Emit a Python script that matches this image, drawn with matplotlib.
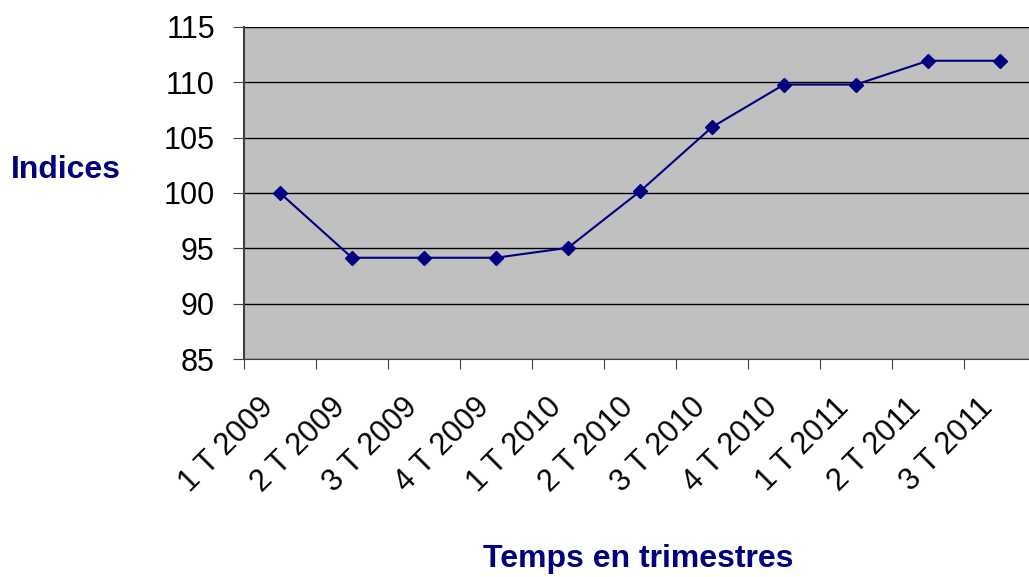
import matplotlib.pyplot as plt
import matplotlib.transforms as mtransforms

plt.rcParams['font.family'] = ['Liberation Sans', 'DejaVu Sans']

# données
trimestres = ['1 T 2009', '2 T 2009', '3 T 2009', '4 T 2009', '1 T 2010', '2 T 2010',
              '3 T 2010', '4 T 2010', '1 T 2011', '2 T 2011', '3 T 2011']
indices = [100, 94.15, 94.15, 94.15, 95.05, 100.15, 105.95, 109.8, 109.8, 111.95, 111.95]

fig = plt.figure(figsize=(10.29, 5.77), dpi=100)
ax = fig.add_axes([244 / 1029, 1 - 359 / 577, 792 / 1029, 332 / 577])
ax.set_facecolor('#C0C0C0')

x = list(range(len(trimestres)))
ax.plot(x, indices, color='#000080', lw=1.5, marker='D', markersize=7, zorder=3)

ax.set_xlim(-0.5, len(trimestres) - 0.5)
ax.set_ylim(85, 115)
ax.set_yticks(range(85, 116, 5))
ax.yaxis.grid(True, color='black', lw=1)
ax.set_axisbelow(True)

ax.set_xticks([i - 0.5 for i in range(len(trimestres) + 1)], minor=False)
ax.set_xticklabels([])
ax.set_xticks(x, minor=True)
ax.set_xticklabels(trimestres, minor=True, rotation=45, ha='right', va='top',
                   rotation_mode='anchor', fontsize=22)
ax.tick_params(axis='x', which='minor', length=0, pad=24)
ax.tick_params(axis='x', which='major', length=7, color='#404040', direction='out')
ax.tick_params(axis='y', length=8, color='#404040', direction='out', labelsize=22, pad=13)

# décalage des étiquettes vers la gauche
offset = mtransforms.ScaledTranslation(-22 / 100, 0, fig.dpi_scale_trans)
for lab in ax.xaxis.get_minorticklabels():
    lab.set_transform(lab.get_transform() + offset)

for s in ['top', 'right']:
    ax.spines[s].set_visible(False)
ax.spines['left'].set_color('#404040')
ax.spines['left'].set_linewidth(1.5)
ax.spines['bottom'].set_color('#404040')

fig.text(66 / 1029, 1 - 170 / 577, 'Indices', color='#000080', fontsize=23,
         fontweight='bold', ha='center', va='center')
fig.text(638 / 1029, 1 - 559 / 577, 'Temps en trimestres', color='#000080', fontsize=23,
         fontweight='bold', ha='center', va='center')

fig.savefig('out.png', dpi=100)
